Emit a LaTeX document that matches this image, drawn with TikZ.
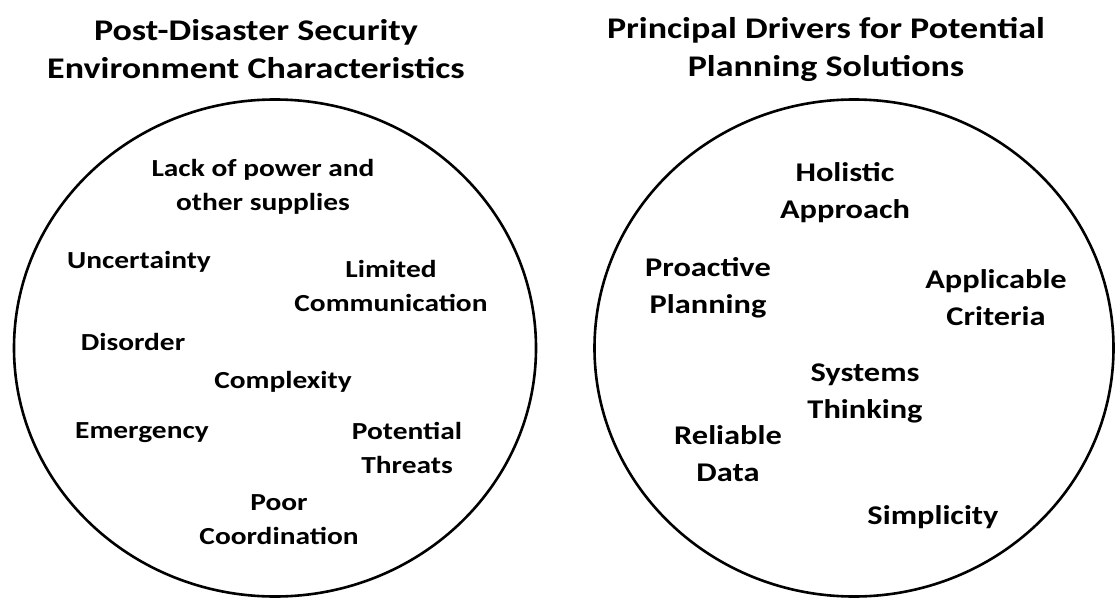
\documentclass[tikz,border=0pt]{standalone}
\usepackage{fontspec}
\setmainfont{Carlito}
\newfontfamily\wideface[FakeStretch=1.2]{Carlito}
\usetikzlibrary{shapes.geometric}
\begin{document}
\begin{tikzpicture}[
  x=1pt, y=-1pt,
  heading/.style={font=\wideface\bfseries\fontsize{30}{38}\selectfont, align=center, inner sep=0pt},
  ring/.style={draw, ellipse, line width=2.6pt, inner sep=0pt},
  trait/.style={font=\wideface\bfseries\fontsize{24.5}{34}\selectfont, align=center, inner sep=0pt},
  driver/.style={font=\wideface\bfseries\fontsize{27}{37}\selectfont, align=center, inner sep=0pt}
]
\useasboundingbox (0,0) rectangle (1116,599);
% headings
\node[heading] (envtitle) at (256,49) {Post-Disaster Security\\Environment Characteristics};
\node[heading] (drvtitle) at (826,49) {Principal Drivers for Potential\\Planning Solutions};
% circles
\node[ring, minimum width=522pt, minimum height=497pt] (envring) at (275,348) {};
\node[ring, minimum width=519pt, minimum height=497pt] (drvring) at (854,348) {};
% characteristics
\node[trait] (lack)   at (263,187) {Lack of power and\\other supplies};
\node[trait] (uncert) at (139,262) {Uncertainty};
\node[trait] (comm)   at (391,286) {Limited\\Communication};
\node[trait] (disord) at (133,342) {Disorder};
\node[trait] (cmplx)  at (283,382) {Complexity};
\node[trait] (emerg)  at (142,433) {Emergency};
\node[trait] (threat) at (407,448) {Potential\\Threats};
\node[trait] (coord)  at (279,520) {Poor\\Coordination};
% drivers
\node[driver] (holist) at (845,193) {Holistic\\Approach};
\node[driver] (proact) at (708,288) {Proactive\\Planning};
\node[driver] (criter) at (996,298) {Applicable\\Criteria};
\node[driver] (system) at (865,393) {Systems\\Thinking};
\node[driver] (data)   at (728,454) {Reliable\\Data};
\node[driver] (simple) at (933,517) {Simplicity};
\end{tikzpicture}
\end{document}
